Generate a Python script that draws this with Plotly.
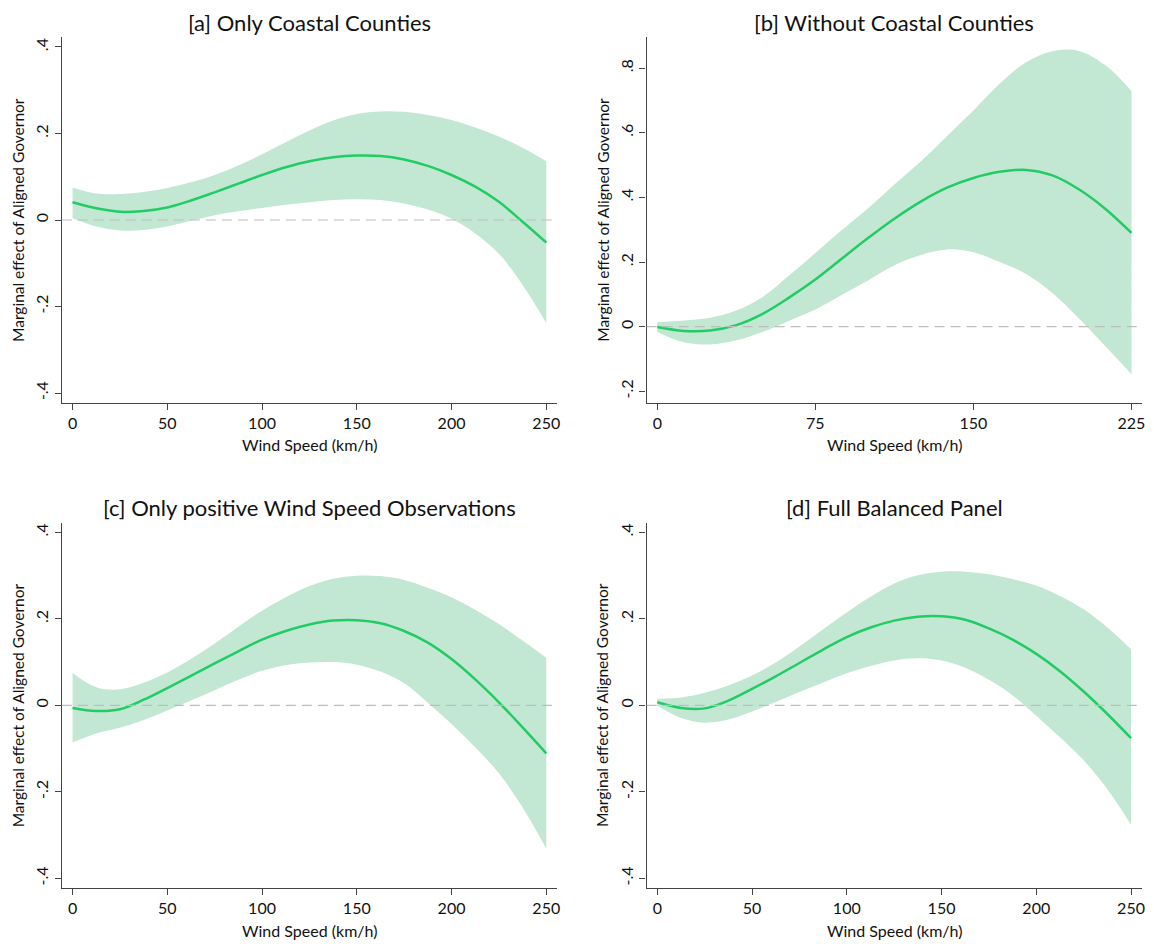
import plotly.graph_objects as go

# ---------------- data ----------------
wind_250 = [0, 12.5, 25, 37.5, 50, 62.5, 75, 87.5, 100, 112.5, 125, 137.5, 150, 162.5, 175, 187.5, 200, 212.5, 225, 237.5, 250]
wind_225 = [0, 12.5, 25, 37.5, 50, 62.5, 75, 87.5, 100, 112.5, 125, 137.5, 150, 162.5, 175, 187.5, 200, 212.5, 225]

est_a = [0.041, 0.027, 0.019, 0.021, 0.029, 0.045, 0.064, 0.084, 0.104, 0.122, 0.136, 0.145, 0.149, 0.148, 0.140, 0.125, 0.104, 0.077, 0.042, -0.004, -0.052]
hi_a = [0.075, 0.061, 0.060, 0.065, 0.074, 0.087, 0.104, 0.126, 0.152, 0.180, 0.207, 0.230, 0.245, 0.251, 0.250, 0.243, 0.231, 0.214, 0.193, 0.167, 0.136]
lo_a = [0.004, -0.015, -0.024, -0.023, -0.015, -0.002, 0.011, 0.020, 0.028, 0.035, 0.041, 0.046, 0.048, 0.046, 0.038, 0.024, 0.003, -0.031, -0.078, -0.150, -0.238]

est_b = [-0.001, -0.013, -0.012, 0.005, 0.040, 0.090, 0.146, 0.210, 0.274, 0.334, 0.387, 0.430, 0.460, 0.479, 0.485, 0.468, 0.425, 0.365, 0.290]
hi_b = [0.014, 0.019, 0.028, 0.050, 0.092, 0.158, 0.228, 0.298, 0.366, 0.440, 0.511, 0.590, 0.669, 0.752, 0.818, 0.852, 0.853, 0.809, 0.729]
lo_b = [-0.016, -0.048, -0.055, -0.042, -0.016, 0.018, 0.053, 0.098, 0.143, 0.190, 0.222, 0.239, 0.230, 0.200, 0.163, 0.104, 0.026, -0.060, -0.147]

est_c = [-0.006, -0.013, -0.009, 0.013, 0.040, 0.068, 0.097, 0.125, 0.152, 0.172, 0.187, 0.196, 0.197, 0.190, 0.172, 0.145, 0.107, 0.060, 0.007, -0.051, -0.111]
hi_c = [0.075, 0.042, 0.037, 0.052, 0.076, 0.107, 0.143, 0.182, 0.219, 0.250, 0.276, 0.293, 0.300, 0.299, 0.290, 0.272, 0.250, 0.221, 0.188, 0.150, 0.110]
lo_c = [-0.086, -0.065, -0.052, -0.034, -0.012, 0.011, 0.035, 0.059, 0.080, 0.093, 0.099, 0.100, 0.094, 0.078, 0.051, 0.006, -0.043, -0.097, -0.157, -0.236, -0.331]

est_d = [0.007, -0.006, -0.007, 0.011, 0.038, 0.067, 0.098, 0.129, 0.158, 0.180, 0.196, 0.205, 0.206, 0.198, 0.178, 0.152, 0.119, 0.079, 0.032, -0.020, -0.076]
hi_d = [0.015, 0.018, 0.029, 0.046, 0.069, 0.099, 0.136, 0.176, 0.215, 0.251, 0.282, 0.301, 0.309, 0.309, 0.303, 0.292, 0.277, 0.253, 0.222, 0.180, 0.130]
lo_d = [-0.001, -0.029, -0.040, -0.033, -0.014, 0.008, 0.031, 0.053, 0.074, 0.091, 0.104, 0.109, 0.104, 0.087, 0.059, 0.023, -0.024, -0.074, -0.127, -0.194, -0.276]

titles = ["[a] Only Coastal Counties", "[b] Without Coastal Counties",
          "[c] Only positive Wind Speed Observations", "[d] Full Balanced Panel"]
x_title = "Wind Speed (km/h)"
y_title = "Marginal effect of Aligned Governor"

xticks_250 = [0, 50, 100, 150, 200, 250]
xticks_225 = [0, 75, 150, 225]
yticks_4 = [-0.4, -0.2, 0, 0.2, 0.4]
yticklabels_4 = ["-.4", "-.2", "0", ".2", ".4"]
yticks_8 = [-0.2, 0, 0.2, 0.4, 0.6, 0.8]
yticklabels_8 = ["-.2", "0", ".2", ".4", ".6", ".8"]

# ---------------- style ----------------
OFF = 8  # browser default body margin
W, H = 1154 - OFF, 944 - OFF
FONT = "Lato, 'Open Sans', sans-serif"
LINE_COL = "rgb(34,204,100)"
BAND_COL = "rgb(194,232,212)"
AXIS_COL = "#444444"
TXT_COL = "#111111"

panels = [
    dict(wind=wind_250, est=est_a, hi=hi_a, lo=lo_a, xr=[-5.63, 255.8], yr=[-0.4224, 0.4224],
         xt=xticks_250, yt=yticks_4, ytl=yticklabels_4, px=(62, 558.7), py=(37.3, 402.7)),
    dict(wind=wind_225, est=est_b, hi=hi_b, lo=lo_b, xr=[-5.06, 230.0], yr=[-0.235, 0.895],
         xt=xticks_225, yt=yticks_8, ytl=yticklabels_8, px=(648.3, 1145), py=(37.3, 402.7)),
    dict(wind=wind_250, est=est_c, hi=hi_c, lo=lo_c, xr=[-5.63, 255.8], yr=[-0.4224, 0.4224],
         xt=xticks_250, yt=yticks_4, ytl=yticklabels_4, px=(62, 558.7), py=(522.7, 888)),
    dict(wind=wind_250, est=est_d, hi=hi_d, lo=lo_d, xr=[-5.63, 255.8], yr=[-0.4224, 0.4224],
         xt=xticks_250, yt=yticks_4, ytl=yticklabels_4, px=(648.3, 1145), py=(522.7, 888)),
]

fig = go.Figure()
layout = dict(
    width=W, height=H, autosize=False,
    margin=dict(l=0, r=0, t=0, b=0),
    paper_bgcolor="white", plot_bgcolor="white",
    showlegend=False,
    font=dict(family=FONT, size=16, color=TXT_COL),
)
annotations = []
shapes = []

def fx(px):
    return (px - OFF) / W

def fy(py):
    return 1 - (py - OFF) / H

for i, p in enumerate(panels):
    n = "" if i == 0 else str(i + 1)
    xa, ya = "x" + n, "y" + n
    sp = dict(shape="spline", smoothing=1.0)
    fig.add_trace(go.Scatter(x=p["wind"], y=p["lo"], mode="lines", line=dict(width=0, **sp),
                             xaxis=xa, yaxis=ya, hoverinfo="skip"))
    fig.add_trace(go.Scatter(x=p["wind"], y=p["hi"], mode="lines", line=dict(width=0, **sp),
                             fill="tonexty", fillcolor=BAND_COL, xaxis=xa, yaxis=ya, hoverinfo="skip"))
    fig.add_trace(go.Scatter(x=p["wind"], y=p["est"], mode="lines",
                             line=dict(color=LINE_COL, width=2.5, **sp),
                             xaxis=xa, yaxis=ya))
    x0, x1 = fx(p["px"][0]), fx(p["px"][1])
    y0, y1 = fy(p["py"][1]), fy(p["py"][0])
    common = dict(showline=True, linecolor=AXIS_COL, linewidth=1.3, ticks="outside", ticklen=6,
                  tickcolor=AXIS_COL, tickwidth=1.2, showgrid=False, zeroline=False,
                  tickfont=dict(family=FONT, size=16, color=TXT_COL))
    layout["xaxis" + n] = dict(domain=[x0, x1], range=p["xr"], anchor=ya, tickmode="array",
                               tickvals=p["xt"], **common)
    layout["yaxis" + n] = dict(domain=[y0, y1], range=p["yr"], anchor=xa, tickmode="array",
                               tickvals=p["yt"], ticktext=p["ytl"], tickangle=-90, **common)
    shapes.append(dict(type="line", xref=xa + " domain", x0=0, x1=1, yref=ya, y0=0, y1=0,
                       line=dict(color="#bdbdbd", width=1.2, dash="10px,6px"), layer="above"))
    cx = (x0 + x1) / 2
    annotations.append(dict(text=titles[i], xref="paper", yref="paper", x=cx, y=fy(p["py"][0] - 15),
                            xanchor="center", yanchor="middle", showarrow=False, borderpad=0,
                            font=dict(family=FONT, size=22, color=TXT_COL)))
    annotations.append(dict(text=x_title, xref="paper", yref="paper", x=cx, y=fy(p["py"][1] + 42),
                            xanchor="center", yanchor="middle", showarrow=False,
                            font=dict(family=FONT, size=16, color=TXT_COL)))
    annotations.append(dict(text=y_title, xref="paper", yref="paper", x=fx(p["px"][0] - 44),
                            y=(y0 + y1) / 2, xanchor="center", yanchor="middle", textangle=-90,
                            showarrow=False, font=dict(family=FONT, size=15.5, color=TXT_COL)))

layout["annotations"] = annotations
layout["shapes"] = shapes
fig.update_layout(**layout)
fig.write_html("out.html")
